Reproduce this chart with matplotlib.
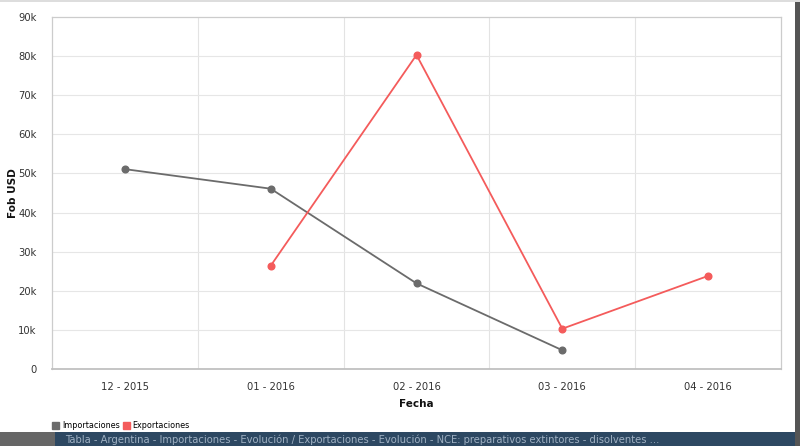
import matplotlib
matplotlib.use("Agg")
import matplotlib.pyplot as plt
from matplotlib.patches import Rectangle, Patch
import numpy as np

categories = ["12 - 2015", "01 - 2016", "02 - 2016", "03 - 2016", "04 - 2016"]
importaciones = [51.1, 46.1, 21.9, 4.8, None]   # thousands USD
exportaciones = [None, 26.4, 80.3, 10.3, 23.8]
y_ticks = [0, 10, 20, 30, 40, 50, 60, 70, 80, 90]
y_tick_labels = ["0", "10k", "20k", "30k", "40k", "50k", "60k", "70k", "80k", "90k"]

plt.rcParams['font.family'] = ['DejaVu Sans']
fig = plt.figure(figsize=(8, 4.46), dpi=100)
fig.patch.set_facecolor("white")
ax = fig.add_axes([52/800, 1-369/446, (781-52)/800, (369-17)/446])

x = np.arange(len(categories))
def series(vals):
    return np.array([np.nan if v is None else v for v in vals], dtype=float)

imp_c = "#6b6b6b"
exp_c = "#f45b5b"
ax.plot(x, series(importaciones), color=imp_c, lw=1.3, marker="o", ms=4.8, zorder=3)
ax.plot(x, series(exportaciones), color=exp_c, lw=1.3, marker="o", ms=4.8, zorder=3)

ax.set_xlim(-0.5, len(categories)-0.5)
ax.set_ylim(0, 90)
ax.set_yticks(y_ticks)
ax.set_yticklabels(y_tick_labels)
ax.set_xticks(x)
ax.set_xticklabels(categories)
for b in np.arange(0.5, len(categories)-0.5, 1):
    ax.axvline(b, color="#e3e3e3", lw=0.8, zorder=1)
for t in y_ticks[1:-1]:
    ax.axhline(t, color="#e6e6e6", lw=0.8, zorder=1)
ax.tick_params(axis="both", length=0, labelsize=7.2, colors="#333333")
ax.tick_params(axis="x", pad=9)
ax.tick_params(axis="y", pad=11)
for s in ax.spines.values():
    s.set_color("#cccccc")
    s.set_linewidth(0.9)
ax.spines["bottom"].set_color("#c0c0c0")
ax.spines["bottom"].set_linewidth(1.3)

fig.text(416/800, 1-404/446, "Fecha", ha="center", va="center", fontsize=7.5, fontweight="bold", color="#111111")
fig.text(13/800, 1-193/446, "Fob USD", ha="center", va="center", rotation=90, fontsize=7.5, fontweight="bold", color="#111111")

handles = [Patch(facecolor=imp_c, edgecolor=imp_c, label="Importaciones"),
           Patch(facecolor=exp_c, edgecolor=exp_c, label="Exportaciones")]
fig.legend(handles=handles, loc="center left", bbox_to_anchor=(49/800, 1-426/446), ncol=2,
           frameon=False, fontsize=5.8, handlelength=0.9, handleheight=0.9, handletextpad=0.3,
           columnspacing=0.4, borderaxespad=0)

# page border / footer
fig.add_artist(Rectangle((0, 0), 1, 14/446, transform=fig.transFigure, facecolor="#2d4862", edgecolor="none"))
fig.add_artist(Rectangle((0, 0), 55/800, 14/446, transform=fig.transFigure, facecolor="#666666", edgecolor="none"))
fig.add_artist(Rectangle((795/800, 0), 5/800, 1, transform=fig.transFigure, facecolor="#555555", edgecolor="none"))
fig.add_artist(Rectangle((0, 1-1.5/446), 1, 1.5/446, transform=fig.transFigure, facecolor="#dddddd", edgecolor="none"))
fig.text(65/800, 6.5/446, "Tabla - Argentina - Importaciones - Evolución / Exportaciones - Evolución - NCE: preparativos extintores - disolventes ...",
         fontsize=7.2, color="#9fb0c2", ha="left", va="center")

fig.savefig("out.png", dpi=100, facecolor="white")
